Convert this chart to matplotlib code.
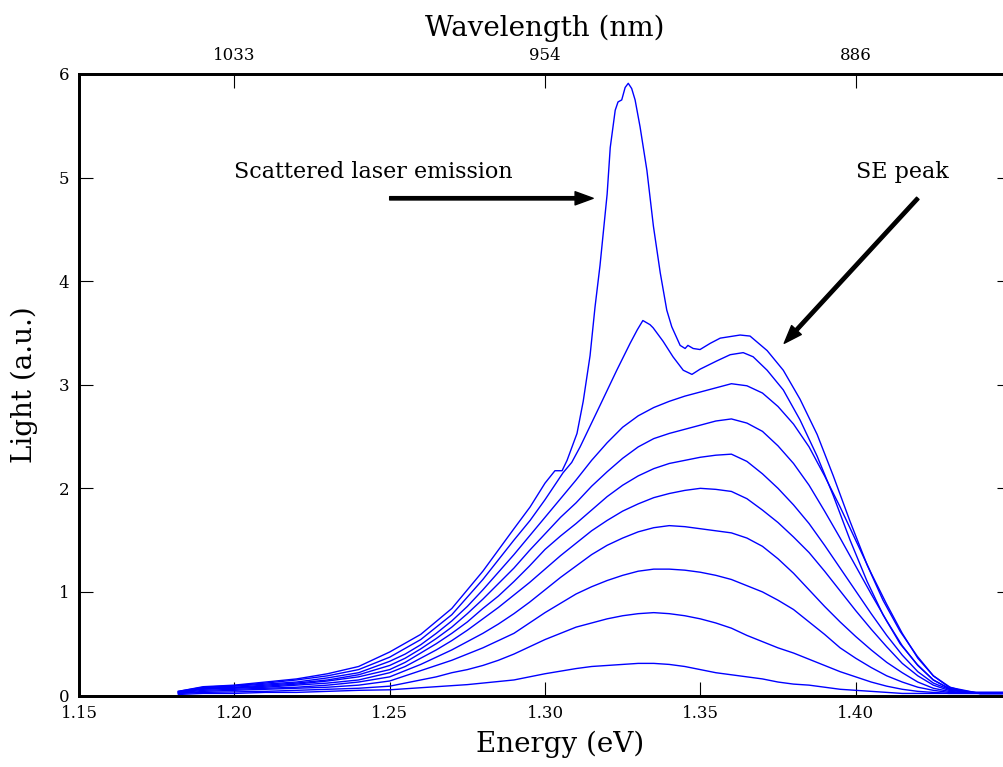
import numpy as np
import matplotlib.pyplot as plt

plt.rcParams['font.family'] = ['DejaVu Serif']

# top curve (scattered laser line on top of the SE band)
e_top = [1.182, 1.19, 1.20, 1.21, 1.22, 1.23, 1.24, 1.25, 1.26, 1.27, 1.28, 1.29,
         1.2952, 1.30, 1.3032, 1.3055, 1.3071, 1.3103, 1.3123, 1.3145, 1.3161, 1.3177,
         1.3200, 1.3210, 1.3226, 1.3235, 1.3247, 1.3258, 1.3268, 1.3279, 1.3290, 1.3306,
         1.3328, 1.3349, 1.3371, 1.3392, 1.3408, 1.3435, 1.3451, 1.3460, 1.3477, 1.3499,
         1.3532, 1.3564, 1.3628, 1.3660, 1.3715, 1.3767, 1.3821, 1.3876, 1.3928, 1.3982,
         1.4037, 1.4088, 1.4143, 1.4198, 1.4250, 1.4304, 1.4359, 1.4478]
light_top = [0.04, 0.085, 0.10, 0.13, 0.16, 0.21, 0.28, 0.42, 0.59, 0.84, 1.20, 1.61,
             1.82, 2.05, 2.17, 2.17, 2.27, 2.53, 2.84, 3.28, 3.75, 4.15,
             4.84, 5.29, 5.65, 5.73, 5.75, 5.87, 5.91, 5.86, 5.75, 5.49,
             5.07, 4.53, 4.08, 3.72, 3.56, 3.38, 3.35, 3.38, 3.35, 3.34,
             3.40, 3.45, 3.48, 3.47, 3.33, 3.14, 2.86, 2.52, 2.12, 1.68,
             1.26, 0.92, 0.62, 0.38, 0.19, 0.08, 0.03, 0.03]

# second curve
e_second = [1.182, 1.19, 1.20, 1.21, 1.22, 1.23, 1.24, 1.25, 1.26, 1.27, 1.28, 1.29,
            1.2952, 1.30, 1.3058, 1.3086, 1.3113, 1.3177, 1.3231, 1.3274, 1.3297, 1.3315,
            1.3338, 1.3348, 1.3380, 1.3412, 1.3445, 1.3473, 1.3499, 1.3553, 1.3596, 1.3638,
            1.3670, 1.3715, 1.3767, 1.3821, 1.3876, 1.3928, 1.3982, 1.4037, 1.4088, 1.4143,
            1.4198, 1.4250, 1.4304, 1.4359, 1.4478]
light_second = [0.04, 0.08, 0.095, 0.12, 0.15, 0.19, 0.25, 0.37, 0.54, 0.78, 1.12, 1.50,
                1.69, 1.89, 2.15, 2.25, 2.40, 2.80, 3.14, 3.40, 3.53, 3.62,
                3.58, 3.55, 3.42, 3.27, 3.14, 3.10, 3.15, 3.23, 3.29, 3.31,
                3.27, 3.14, 2.95, 2.66, 2.31, 1.93, 1.50, 1.10, 0.78, 0.50,
                0.30, 0.15, 0.06, 0.03, 0.03]

# lower curves share one energy grid
energy = [1.182, 1.19, 1.20, 1.21, 1.22, 1.23, 1.24, 1.25, 1.255, 1.26, 1.265,
          1.27, 1.275, 1.28, 1.285, 1.29, 1.295, 1.30, 1.305, 1.31, 1.315, 1.32,
          1.325, 1.33, 1.335, 1.34, 1.345, 1.35, 1.355, 1.36, 1.365, 1.37, 1.375,
          1.38, 1.385, 1.39, 1.395, 1.40, 1.405, 1.41, 1.415, 1.42, 1.425, 1.43,
          1.44, 1.45]
light_3 = [0.035, 0.075, 0.09, 0.11, 0.13, 0.17, 0.22, 0.33, 0.40, 0.49, 0.60,
           0.72, 0.86, 1.02, 1.19, 1.36, 1.54, 1.72, 1.90, 2.08, 2.27, 2.44,
           2.59, 2.70, 2.78, 2.84, 2.89, 2.93, 2.97, 3.01, 2.99, 2.92, 2.79,
           2.62, 2.40, 2.12, 1.82, 1.50, 1.18, 0.88, 0.60, 0.36, 0.19, 0.08,
           0.02, 0.02]
light_4 = [0.035, 0.07, 0.08, 0.10, 0.12, 0.15, 0.20, 0.29, 0.36, 0.45, 0.55,
           0.66, 0.79, 0.93, 1.08, 1.23, 1.40, 1.56, 1.72, 1.86, 2.02, 2.16,
           2.29, 2.40, 2.48, 2.53, 2.57, 2.61, 2.65, 2.67, 2.63, 2.55, 2.41,
           2.24, 2.03, 1.78, 1.52, 1.25, 0.98, 0.72, 0.48, 0.29, 0.15, 0.07,
           0.02, 0.02]
light_5 = [0.03, 0.065, 0.075, 0.09, 0.11, 0.14, 0.18, 0.25, 0.32, 0.41, 0.50,
           0.60, 0.71, 0.84, 0.96, 1.10, 1.25, 1.41, 1.54, 1.66, 1.79, 1.92,
           2.03, 2.12, 2.19, 2.24, 2.27, 2.30, 2.32, 2.33, 2.26, 2.14, 2.00,
           1.84, 1.66, 1.45, 1.23, 1.01, 0.79, 0.58, 0.39, 0.23, 0.12, 0.06,
           0.02, 0.02]
light_6 = [0.03, 0.06, 0.07, 0.08, 0.10, 0.12, 0.15, 0.22, 0.28, 0.36, 0.44,
           0.53, 0.63, 0.74, 0.85, 0.97, 1.09, 1.22, 1.35, 1.47, 1.59, 1.69,
           1.78, 1.85, 1.91, 1.95, 1.98, 2.00, 1.99, 1.97, 1.90, 1.79, 1.67,
           1.53, 1.38, 1.20, 1.01, 0.82, 0.64, 0.47, 0.31, 0.19, 0.10, 0.05,
           0.02, 0.02]
light_7 = [0.025, 0.05, 0.06, 0.07, 0.08, 0.10, 0.13, 0.18, 0.24, 0.30, 0.37,
           0.44, 0.52, 0.60, 0.69, 0.79, 0.90, 1.02, 1.14, 1.25, 1.36, 1.45,
           1.52, 1.58, 1.62, 1.64, 1.63, 1.61, 1.59, 1.57, 1.52, 1.44, 1.32,
           1.18, 1.02, 0.86, 0.71, 0.57, 0.44, 0.32, 0.22, 0.13, 0.07, 0.04,
           0.02, 0.02]
light_8 = [0.02, 0.04, 0.05, 0.06, 0.07, 0.08, 0.10, 0.14, 0.19, 0.24, 0.29,
           0.34, 0.40, 0.46, 0.53, 0.60, 0.70, 0.80, 0.89, 0.98, 1.05, 1.11,
           1.16, 1.20, 1.22, 1.22, 1.21, 1.19, 1.16, 1.12, 1.06, 1.00, 0.92,
           0.83, 0.71, 0.59, 0.46, 0.36, 0.27, 0.19, 0.13, 0.08, 0.05, 0.03,
           0.02, 0.02]
light_9 = [0.02, 0.03, 0.035, 0.04, 0.05, 0.06, 0.07, 0.09, 0.12, 0.15, 0.18,
           0.22, 0.25, 0.29, 0.34, 0.40, 0.47, 0.54, 0.60, 0.66, 0.70, 0.74,
           0.77, 0.79, 0.80, 0.79, 0.77, 0.74, 0.70, 0.65, 0.58, 0.52, 0.46,
           0.41, 0.35, 0.29, 0.23, 0.18, 0.13, 0.09, 0.06, 0.04, 0.03, 0.02,
           0.02, 0.02]
light_10 = [0.01, 0.02, 0.02, 0.03, 0.03, 0.04, 0.05, 0.055, 0.065, 0.075, 0.085,
            0.095, 0.105, 0.12, 0.135, 0.15, 0.18, 0.21, 0.235, 0.26, 0.28, 0.29,
            0.30, 0.31, 0.31, 0.30, 0.28, 0.25, 0.22, 0.20, 0.18, 0.16, 0.13,
            0.11, 0.10, 0.08, 0.06, 0.05, 0.04, 0.03, 0.02, 0.02, 0.02, 0.02,
            0.02, 0.02]

lower = [light_3, light_4, light_5, light_6, light_7, light_8, light_9, light_10]

energy_ticks = [1.15, 1.20, 1.25, 1.30, 1.35, 1.40]
wl_ticks = [1.20, 1.30, 1.40]
wl_labels = ['%d' % round(1240.0 / e) for e in wl_ticks]

fig = plt.figure(figsize=(10.04, 7.67), dpi=100)
ax = fig.add_axes([79 / 1004, 1 - 695.5 / 767, 932 / 1004, 621.5 / 767])

ax.plot(e_top, light_top, color='#0000ff', lw=1.0)
ax.plot(e_second, light_second, color='#0000ff', lw=1.0)
for y in lower:
    ax.plot(energy, y, color='#0000ff', lw=1.0)

ax.set_xlim(1.15, 1.45)
ax.set_ylim(0, 6)
ax.set_xticks(energy_ticks)
ax.set_xticklabels(['%.2f' % e for e in energy_ticks])
ax.set_yticks(range(7))
ax.tick_params(direction='in', length=10, width=0.8, labelsize=12, pad=7,
               right=True, top=False)
ax.set_xlabel('Energy (eV)', fontsize=20)
ax.xaxis.set_label_coords(0.516, -0.057)
ax.set_ylabel('Light (a.u.)', fontsize=20)
ax.yaxis.set_label_coords(-0.044, 0.5)
for s in ax.spines.values():
    s.set_linewidth(2.0)

ax2 = ax.twiny()
ax2.set_xlim(ax.get_xlim())
ax2.set_xticks(wl_ticks)
ax2.set_xticklabels(wl_labels)
ax2.tick_params(direction='in', length=10, width=0.8, labelsize=12, pad=7)
ax2.set_xlabel('Wavelength (nm)', fontsize=20, labelpad=8)
for s in ax2.spines.values():
    s.set_linewidth(2.0)

ax.text(1.20, 5.0, 'Scattered laser emission', fontsize=16)
ax.text(1.40, 5.0, 'SE peak', fontsize=16)
arrow = dict(facecolor='black', edgecolor='black', width=2.4, headwidth=9.5,
             headlength=13, shrink=0)
ax.annotate('', xy=(1.3155, 4.8), xytext=(1.25, 4.8), arrowprops=arrow)
ax.annotate('', xy=(1.377, 3.4), xytext=(1.42, 4.8), arrowprops=arrow)

fig.savefig('out.png', dpi=100)
